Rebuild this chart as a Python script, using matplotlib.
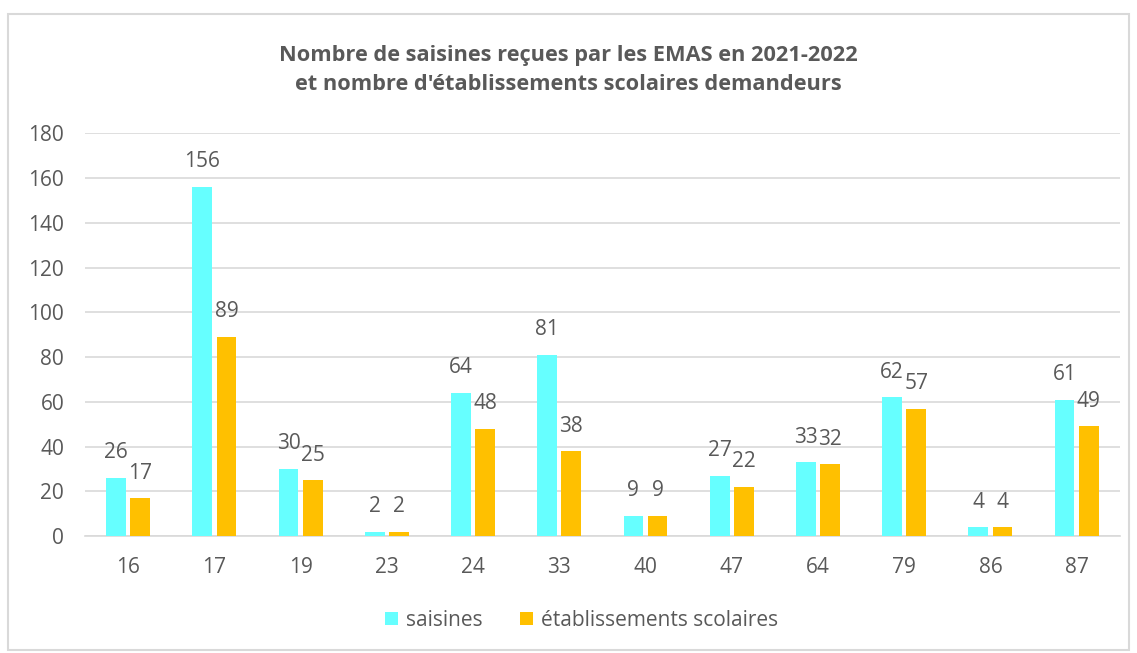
import numpy as np
import matplotlib.pyplot as plt
from matplotlib.patches import Rectangle

# departements
departements = ['16', '17', '19', '23', '24', '33', '40', '47', '64', '79', '86', '87']
saisines = [26, 156, 30, 2, 64, 81, 9, 27, 33, 62, 4, 61]
etablissements = [17, 89, 25, 2, 48, 38, 9, 22, 32, 57, 4, 49]

grey = '#595959'
plt.rcParams['font.family'] = ['Open Sans', 'DejaVu Sans']

fig = plt.figure(figsize=(11.37, 6.53), dpi=100)
ax = fig.add_axes([0.0748, 0.179, 0.910, 0.617])

x = np.arange(len(departements))
w = 0.23
b1 = ax.bar(x - 0.14, saisines, w, color='#66FFFF', label='saisines', zorder=3)
b2 = ax.bar(x + 0.14, etablissements, w, color='#FFC000', label='établissements scolaires', zorder=3)

for bars in (b1, b2):
    for r in bars:
        h = r.get_height()
        ax.annotate(str(int(h)), (r.get_x() + r.get_width() / 2, h),
                    xytext=(0, 18), textcoords='offset points',
                    ha='center', va='center', fontsize=15, color=grey)

ax.set_xlim(-0.5, len(departements) - 0.5)
ax.set_ylim(0, 180)
ax.set_yticks(range(0, 181, 20))
ax.set_xticks(x)
ax.set_xticklabels(departements)
ax.tick_params(axis='both', length=0, labelsize=15, labelcolor=grey)
ax.tick_params(axis='x', pad=15)
ax.tick_params(axis='y', pad=15)
ax.grid(axis='y', color='#D9D9D9', linewidth=1.2, zorder=0)
for s in ['top', 'right', 'left']:
    ax.spines[s].set_visible(False)
ax.spines['bottom'].set_color('#D9D9D9')
ax.spines['bottom'].set_linewidth(1.2)

fig.text(0.5, 0.893, "Nombre de saisines reçues par les EMAS en 2021-2022\net nombre d'établissements scolaires demandeurs",
         ha='center', va='center', fontsize=15.7, fontweight='bold', color=grey, linespacing=1.5)

ax.legend(loc='center', bbox_to_anchor=(0.48, -0.21), ncol=2, frameon=False,
          fontsize=15, labelcolor=grey, handlelength=0.6, handleheight=0.6,
          columnspacing=1.8, handletextpad=0.4)

fig.patches.append(Rectangle((0.007, 0.005), 0.986, 0.973, transform=fig.transFigure,
                             fill=False, edgecolor='#D9D9D9', linewidth=1.5))

fig.savefig('out.png', dpi=100)
